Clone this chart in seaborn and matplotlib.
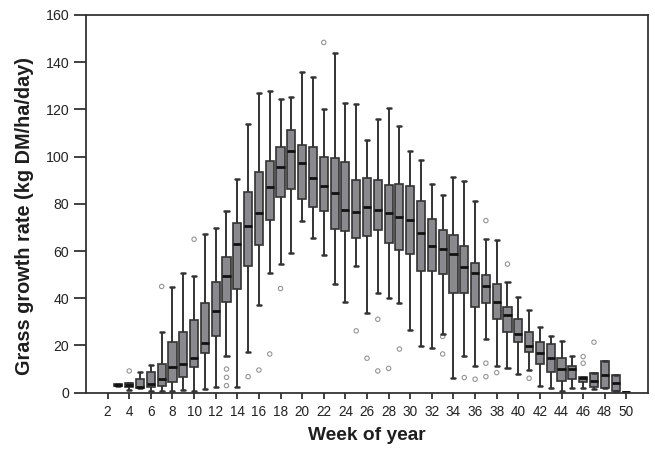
from matplotlib import pyplot as plt
import pandas as pd
import seaborn as sns

# five-number summary per week
weeks = list(range(3, 51))
whislo = [2.8, 1.1, 1.9, 0.8, 0.8, 0.8, 1.0, 0.8, 1.7, 2.5, 15.6, 2.5, 17.1, 37.2, 50.9, 54.6,
          59.1, 72.9, 65.7, 58.3, 46.1, 38.6, 53.7, 33.7, 42.4, 40.0, 37.9, 26.6, 19.9, 19.1,
          24.8, 6.4, 15.6, 11.3, 22.9, 11.3, 10.3, 7.9, 9.6, 2.8, 2.1, 0.8, 2.1, 1.9, 1.4, 1.9,
          0.8, 0.5]
q1 = [2.8, 2.3, 1.9, 2.3, 2.8, 4.7, 6.5, 10.8, 16.7, 24.2, 38.6, 43.8, 53.7, 62.5, 73.2, 82.9,
      86.5, 82.0, 78.8, 76.9, 69.4, 68.7, 65.6, 66.2, 69.1, 63.6, 60.4, 58.7, 51.6, 51.6,
      50.3, 42.2, 42.2, 36.2, 37.9, 31.3, 25.9, 21.6, 17.1, 12.0, 8.6, 5.0, 5.8, 4.7, 2.5, 1.9,
      0.8, 0.5]
median = [3.2, 3.3, 2.5, 3.7, 5.8, 11.0, 12.2, 14.6, 21.2, 34.5, 49.5, 63.2, 70.7, 76.3, 87.1, 95.4,
          102.5, 97.1, 90.8, 87.5, 84.6, 77.2, 76.6, 78.6, 77.2, 76.2, 74.5, 73.2, 67.6, 62.3,
          60.8, 58.7, 53.4, 50.6, 45.0, 38.3, 33.0, 25.0, 19.9, 16.7, 14.6, 10.1, 10.1, 6.1, 5.1, 7.5,
          4.2, 0.5]
q3 = [3.7, 4.2, 5.7, 8.6, 12.0, 21.6, 25.9, 30.8, 37.9, 46.7, 57.4, 72.0, 85.0, 93.6, 98.1, 104.2,
      111.1, 104.9, 104.2, 100.0, 99.4, 97.7, 90.2, 90.8, 90.2, 87.8, 88.4, 87.4, 81.2, 73.7,
      69.1, 66.8, 62.1, 54.9, 49.9, 46.2, 36.2, 31.3, 25.9, 21.4, 20.5, 14.6, 11.3, 6.7, 8.5, 13.4,
      7.5, 0.5]
whishi = [3.7, 4.2, 8.9, 11.7, 25.9, 44.7, 50.9, 49.5, 67.2, 69.6, 77.0, 90.6, 113.7, 126.8, 128.0, 124.5,
          125.3, 135.7, 133.6, 120.0, 144.0, 122.7, 122.3, 107.0, 115.9, 120.6, 112.8, 102.4, 98.7, 88.4,
          83.7, 91.2, 89.5, 81.2, 65.3, 64.6, 46.7, 40.7, 35.1, 28.0, 24.2, 22.0, 15.6, 6.7, 8.5, 13.4,
          7.5, 0.5]

# outliers
out_week = [4, 7, 10, 13, 13, 13, 15, 16, 17, 18, 22, 25, 26, 27, 27, 28, 29, 33, 33, 35,
            36, 37, 37, 37, 38, 39, 41, 46, 46, 47]
out_val = [9.2, 45.0, 65.0, 3.0, 6.5, 10.0, 6.8, 9.6, 16.4, 44.1, 148.4, 26.2, 14.6, 31.1, 9.2,
           10.3, 18.5, 23.8, 16.4, 6.4, 5.7, 72.9, 12.5, 6.8, 8.5, 54.5, 6.1, 15.3, 12.5, 21.4]

# long table: each week's five numbers reproduce its box exactly with whis=(0, 100)
rows = []
for i, w in enumerate(weeks):
    for v in (whislo[i], q1[i], median[i], q3[i], whishi[i]):
        rows.append({"week": w, "rate": v})
df = pd.DataFrame(rows)
outliers = pd.DataFrame({"week": out_week, "rate": out_val})

sns.set_style("ticks")
plt.rcParams["font.family"] = ["Liberation Sans", "DejaVu Sans"]

fig = plt.figure(figsize=(6.55, 4.49), dpi=100)
ax = fig.add_axes([0.1313, 0.1254, 0.858, 0.8412])

dark = "#333333"
sns.boxplot(data=df, x="week", y="rate", native_scale=True, orient="x",
            whis=(0, 100), width=0.75, color="#8a8a8e", saturation=1,
            linecolor=dark, linewidth=1.2, showfliers=False, ax=ax,
            medianprops={"color": "#111111", "linewidth": 2},
            whiskerprops={"color": dark, "linewidth": 1.4},
            capprops={"color": dark, "linewidth": 1.8})

sns.scatterplot(data=outliers, x="week", y="rate", marker="o", s=10,
                facecolor="none", edgecolor="#959595", linewidth=0.8,
                legend=False, ax=ax)

ax.set_xlim(0, 52)
ax.set_ylim(0, 160)
ax.set_xticks(range(2, 51, 2))
ax.set_xticklabels([str(w) for w in range(2, 51, 2)])
ax.set_yticks(range(0, 161, 20))

for side in ["left", "right", "top", "bottom"]:
    ax.spines[side].set_visible(True)
    ax.spines[side].set_color(dark)
    ax.spines[side].set_linewidth(1.3)

ax.tick_params(axis="x", direction="out", length=4.3, width=1.3, color=dark,
               labelsize=9.8, labelcolor="#222222", pad=4.5)
ax.tick_params(axis="y", direction="out", length=8.5, width=1.3, color=dark,
               labelsize=10.2, labelcolor="#222222", pad=3.5)

ax.set_xlabel("Week of year", fontsize=13.8, fontweight="bold", color="#1e1e1e")
ax.set_ylabel("Grass growth rate (kg DM/ha/day)", fontsize=14.3, fontweight="bold",
              color="#1e1e1e")
ax.xaxis.set_label_coords(0.499, -0.092)
ax.yaxis.set_label_coords(-0.092, 0.468)

fig.savefig("out.png", dpi=100)
